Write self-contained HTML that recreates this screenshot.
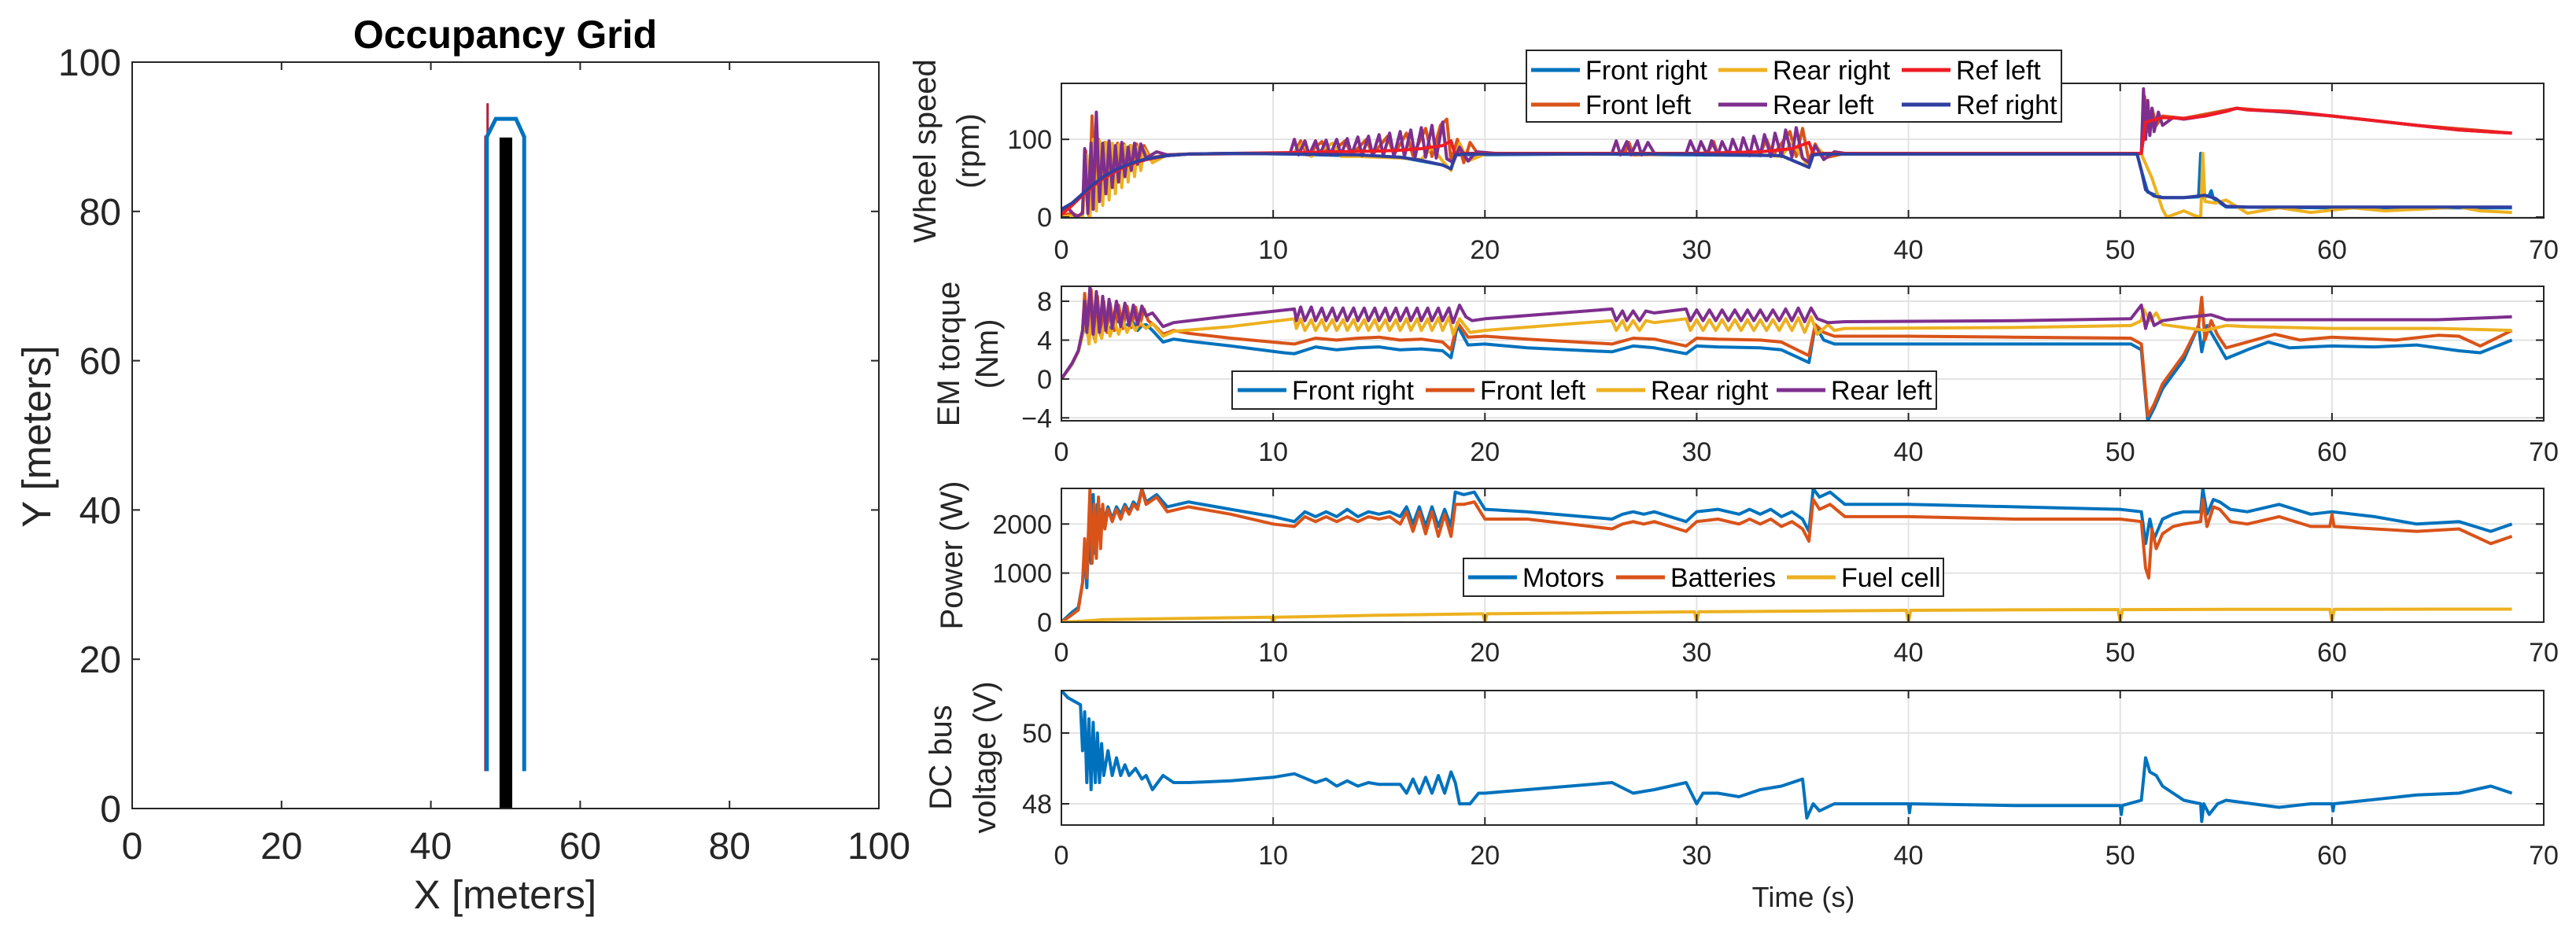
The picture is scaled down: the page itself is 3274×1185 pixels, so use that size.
<!DOCTYPE html>
<html><head><meta charset="utf-8"><style>
html,body{margin:0;padding:0;background:#fff;}
svg{display:block;font-family:"Liberation Sans",Arial,sans-serif;}
</style></head><body>
<svg id="fig" width="3274" height="1185" viewBox="0 0 3274 1185" xmlns="http://www.w3.org/2000/svg"></svg>
<script>
// ===== Occupancy grid data =====
const gridTicks = [0,20,40,60,80,100];
const obstacleBar = [49.2, 50.9, 0, 89.9]; // xmin,xmax,ymin,ymax (meters)
const pathOutline = [[47.5,5],[47.5,90],[48.7,92.4],[51.4,92.4],[52.5,90],[52.5,5]];
const refPath = [[47.3,5],[47.3,90],[47.6,90],[47.6,94.5]];

// ===== Time axis =====
const timeTicks = [0,10,20,30,40,50,60,70];

// ===== Wheel speed (rpm) =====
const wsTicks = [0,100];
const wsFrontRight = [[0,8],[1,28],[2,50],[3,64],[4,74],[5,79],[6,81],[8,82],[11,81],[16,77],[18,67],[18.4,62],[18.6,80],[25,81],[34,79],[35.3,64],[35.5,80],[36,81],[50.8,81],[51.0,60],[51.3,32],[52,25],[53,25],[53.7,26],[53.8,82],[53.9,25],[54.2,28],[54.3,34],[54.4,24],[55,13],[60,12],[68.5,12]];
const wsFrontLeft = [[0,2],[0.5,5],[0.9,0],[1.0,8],[1.15,85],[1.3,2],[1.45,130],[1.6,12],[1.75,100],[1.9,22],[2.05,96],[2.2,30],[2.35,92],[2.5,38],[2.65,95],[2.8,46],[2.95,94],[3.1,54],[3.25,92],[3.4,60],[3.55,94],[3.7,68],[3.9,92],[4.2,76],[5,80],[6,81],[11,82],[11.3,98],[11.6,80],[12.3,97],[12.6,80],[13.4,98],[13.7,80],[14.4,100],[14.7,80],[15.4,104],[15.7,80],[16.3,108],[16.6,79],[17.2,114],[17.5,78],[17.9,118],[18.2,126],[18.4,72],[18.7,100],[19.0,70],[19.3,96],[19.7,80],[20.5,82],[26.6,82],[26.8,96],[27.0,80],[30.5,82],[30.8,97],[31.0,80],[33,82],[33.3,100],[33.6,79],[34.4,110],[34.7,78],[35.0,114],[35.3,72],[35.6,94],[36,76],[37,82],[50.8,82],[51.0,82],[51.15,155],[51.3,110],[51.5,140],[51.7,118],[52,130],[53,127],[55.5,140],[60,130],[64,118],[68.5,108]];
const wsRearRight = [[0,0],[0.5,2],[1.0,0],[1.2,80],[1.35,0],[1.5,100],[1.65,8],[1.8,98],[1.95,15],[2.1,96],[2.25,22],[2.4,95],[2.55,30],[2.7,93],[2.85,38],[3.0,92],[3.15,45],[3.3,92],[3.45,52],[3.6,90],[3.75,60],[3.9,88],[4.3,70],[5,80],[6,81],[11,82],[11.4,95],[11.8,78],[12.8,95],[13.2,78],[14,78],[15,77],[16,76],[17,74],[17.5,90],[18,72],[18.4,60],[18.8,95],[19.2,72],[20,81],[30,81],[33,80],[34,78],[34.5,96],[35,76],[35.3,64],[35.6,92],[36,81],[50.8,81],[51.0,81],[51.5,50],[52,10],[52.2,0],[52.6,4],[53,8],[53.5,2],[53.8,0],[53.9,82],[54.0,20],[54.5,18],[55,22],[56,5],[57.5,12],[59,6],[61,12],[62.5,8],[64,10],[66,13],[67,8],[68.5,6]];
const wsRearLeft = [[0,3],[0.3,12],[0.7,0],[1.0,5],[1.1,88],[1.25,5],[1.4,95],[1.5,10],[1.65,135],[1.8,20],[1.95,95],[2.1,30],[2.25,98],[2.4,38],[2.55,92],[2.7,45],[2.85,96],[3.0,52],[3.15,90],[3.3,60],[3.45,95],[3.6,68],[3.75,94],[4.0,76],[4.5,84],[5.0,80],[6,81],[10.8,82],[11.0,100],[11.2,80],[11.5,98],[11.7,80],[12.0,98],[12.2,80],[12.5,99],[12.7,80],[13.0,100],[13.2,80],[13.5,101],[13.7,80],[14.0,103],[14.2,79],[14.5,104],[14.7,79],[15.0,106],[15.2,79],[15.5,108],[15.7,78],[16.0,110],[16.2,78],[16.5,112],[16.7,77],[17.0,115],[17.2,77],[17.5,118],[17.7,76],[18.0,122],[18.2,75],[18.5,70],[18.8,90],[19.2,72],[19.6,84],[20.5,82],[26,82],[26.2,98],[26.4,80],[26.7,97],[26.9,80],[27.2,98],[27.4,80],[27.7,96],[28,82],[29.5,82],[29.7,98],[30,80],[30.2,97],[30.5,80],[30.7,98],[31,80],[31.2,97],[31.5,80],[31.7,100],[32,80],[32.2,102],[32.5,79],[32.7,104],[33,79],[33.2,106],[33.5,78],[33.7,108],[34,78],[34.2,112],[34.5,77],[34.7,115],[35.0,76],[35.3,70],[35.6,92],[36,74],[36.5,84],[37,82],[50.8,82],[51.0,82],[51.1,165],[51.2,100],[51.3,150],[51.4,105],[51.5,140],[51.6,110],[51.8,135],[52,118],[52.5,128],[53,126],[54,130],[55,136],[55.5,140],[56,138],[58,135],[60,130],[62,124],[64,118],[66,112],[68.5,108]];
const wsRefLeft = [[0,3],[0.5,15],[1,28],[1.5,40],[2,50],[2.5,58],[3,65],[3.5,70],[4,74],[5,79],[6,81],[8,82],[11,83],[13,84],[15,85],[16,86],[17,88],[18,92],[18.4,98],[18.6,80],[19,82],[25,82],[30,82],[33,84],[34.5,88],[35.3,96],[35.5,81],[36,82],[50.8,82],[51.0,82],[51.2,122],[52,128],[53,127],[54,130],[55,136],[55.5,140],[56,138],[58,136],[60,130],[62,124],[64,118],[66,112],[68.5,108]];
const wsRefRight = [[0,10],[0.5,18],[1,30],[1.5,42],[2,52],[2.5,60],[3,66],[3.5,71],[4,75],[5,79],[6,81],[8,82],[11,81],[14,80],[16,77],[17,73],[18,67],[18.4,62],[18.6,80],[19,81],[25,81],[30,81],[34,79],[35.3,64],[35.5,80],[36,81],[50.8,81],[51.0,60],[51.2,35],[51.6,27],[52,25],[53,25],[54,28],[54.5,24],[55,14],[56,13],[60,13],[65,13],[68.5,13]];

// ===== EM torque (Nm) =====
const tqTicks = [-4,0,4,8];
const tqFrontRight = [[0,0],[0.5,1.5],[0.8,2.8],[1.0,4.5],[1.2,6.5],[1.4,5],[1.6,7],[1.8,5],[2.0,6.5],[2.3,5],[2.6,6],[3.0,5.5],[3.4,5.8],[3.6,5.0],[3.8,5.5],[4.0,5.6],[4.3,5.0],[4.8,3.8],[5.3,4.1],[6,3.9],[8,3.4],[10.5,2.7],[11,2.6],[12,3.3],[13,3.0],[14,3.2],[15,3.3],[16,3.0],[17,3.1],[18,2.9],[18.4,2.2],[18.7,5.5],[19.2,3.5],[20,3.6],[22,3.2],[26,2.8],[27,3.4],[28,3.2],[29.5,2.6],[30,3.4],[31,3.3],[33,3.2],[34,3.0],[35.3,1.7],[35.6,5.5],[36,4.0],[36.5,3.6],[40,3.6],[45,3.6],[50.5,3.6],[51.0,3.0],[51.3,-4.3],[51.6,-3],[52,-1],[53,2],[53.7,5.5],[53.85,2.8],[54.1,5.5],[54.5,4.0],[55,2.1],[56,3.0],[57,3.8],[58,3.2],[60,3.4],[62,3.3],[64,3.5],[66,2.9],[67,2.7],[68.5,4.0]];
const tqFrontLeft = [[0,0],[0.5,1.6],[0.8,2.9],[1.0,5],[1.1,8.8],[1.25,4.5],[1.4,9.2],[1.55,4.2],[1.7,8.5],[1.85,4.5],[2.0,8.0],[2.15,4.8],[2.3,7.8],[2.5,5],[2.7,7.6],[2.9,5.2],[3.1,7.5],[3.3,5.3],[3.5,7.4],[3.7,5.5],[3.9,7.2],[4.1,6.0],[4.4,5.5],[4.8,4.6],[5.3,5.0],[6,4.7],[8,4.2],[10.5,3.7],[11,3.6],[12,4.2],[13,4.0],[14,4.2],[15,4.3],[16,4.0],[17,4.1],[18,3.8],[18.4,3.0],[18.7,5.8],[19.2,4.3],[20,4.4],[22,4.1],[26,3.6],[27,4.2],[28,4.1],[29.5,3.4],[30,4.2],[31,4.1],[33,4.0],[34,3.8],[35.3,2.4],[35.6,5.6],[36,4.8],[36.5,4.4],[40,4.4],[45,4.3],[50.5,4.2],[51.0,3.6],[51.3,-3.8],[51.6,-2.6],[52,-0.5],[53,2.5],[53.7,5.5],[53.85,8.4],[54.0,4.0],[54.3,6.0],[54.6,4.5],[55,3.2],[56,3.8],[57.3,4.6],[58.5,4.0],[60,4.3],[63,4.0],[65,4.5],[66,4.4],[67,3.4],[68.5,5.0]];
const tqRearRight = [[0,0],[0.5,1.5],[0.8,2.8],[1.0,4.5],[1.15,7],[1.3,3.6],[1.45,6.8],[1.6,3.8],[1.75,6.5],[1.9,4.2],[2.1,6.3],[2.3,4.4],[2.5,6.0],[2.7,4.6],[2.9,6.0],[3.1,4.8],[3.3,5.8],[3.5,5.0],[3.7,5.8],[4.0,5.2],[4.3,5.7],[4.8,4.4],[5.3,4.9],[8,5.4],[11,6.2],[11.1,5.2],[11.3,6.2],[11.5,5.0],[11.8,6.1],[12.0,5.0],[12.3,6.1],[12.5,5.0],[12.8,6.1],[13.0,5.0],[13.3,6.1],[13.5,5.0],[13.8,6.1],[14.0,5.0],[14.3,6.1],[14.5,5.0],[14.8,6.1],[15.0,5.0],[15.3,6.1],[15.5,5.0],[15.8,6.1],[16.0,5.0],[16.3,6.2],[16.5,5.0],[16.8,6.2],[17.0,5.0],[17.3,6.2],[17.5,5.0],[17.8,6.3],[18.0,5.0],[18.3,6.4],[18.5,4.6],[18.8,6.2],[19.3,4.8],[20,5.0],[26,6.0],[26.2,5.0],[26.5,6.0],[26.7,5.0],[27.0,6.0],[27.3,5.0],[27.6,6.0],[28,5.8],[29.5,6.2],[29.7,5.0],[30,6.1],[30.3,5.0],[30.6,6.1],[30.9,5.0],[31.2,6.1],[31.5,5.0],[31.8,6.1],[32.1,5.0],[32.4,6.1],[32.7,5.0],[33,6.1],[33.3,5.0],[33.6,6.1],[33.9,5.0],[34.2,6.2],[34.5,5.0],[34.8,6.3],[35.1,4.8],[35.4,6.4],[35.7,4.6],[36.2,5.6],[36.5,5.0],[37,5.2],[45,5.3],[50.5,5.5],[51.0,6.0],[51.1,7.2],[51.4,6.0],[51.7,6.8],[52,5.6],[53,5.3],[54,5.0],[55,5.5],[56,5.4],[60,5.2],[65,5.2],[68.5,5.0]];
const tqRearLeft = [[0,0],[0.5,1.6],[0.8,2.9],[1.0,5],[1.1,8.0],[1.2,4.8],[1.35,9.5],[1.5,4.6],[1.65,9.0],[1.8,4.8],[1.95,8.5],[2.1,5.0],[2.25,8.2],[2.4,5.2],[2.6,8.0],[2.8,5.4],[3.0,7.8],[3.2,5.5],[3.4,7.6],[3.6,5.6],[3.8,7.5],[4.0,6.5],[4.3,6.8],[4.8,5.4],[5.3,5.8],[8,6.5],[11,7.2],[11.1,6.0],[11.3,7.4],[11.5,6.0],[11.8,7.4],[12.0,6.0],[12.3,7.3],[12.5,6.0],[12.8,7.3],[13.0,6.0],[13.3,7.3],[13.5,6.0],[13.8,7.3],[14.0,6.0],[14.3,7.3],[14.5,6.0],[14.8,7.3],[15.0,6.0],[15.3,7.3],[15.5,6.0],[15.8,7.3],[16.0,6.0],[16.3,7.3],[16.5,6.0],[16.8,7.3],[17.0,6.0],[17.3,7.3],[17.5,6.0],[17.8,7.3],[18.0,6.0],[18.3,7.3],[18.5,5.8],[18.8,7.6],[19.1,6.4],[19.4,6.0],[20,6.2],[26,7.2],[26.2,6.0],[26.5,7.0],[26.7,6.0],[27.0,7.0],[27.3,6.0],[27.6,7.0],[28,6.8],[29.5,7.2],[29.7,6.0],[30,7.1],[30.3,6.0],[30.6,7.1],[30.9,6.0],[31.2,7.1],[31.5,6.0],[31.8,7.1],[32.1,6.0],[32.4,7.1],[32.7,6.0],[33,7.1],[33.3,6.0],[33.6,7.1],[33.9,6.0],[34.2,7.2],[34.5,6.0],[34.8,7.3],[35.1,5.9],[35.4,7.3],[35.7,6.2],[36.2,5.8],[37,5.9],[45,6.0],[50.5,6.2],[51.0,7.6],[51.2,5.2],[51.4,6.8],[51.6,5.5],[52,6.0],[53,6.3],[54.3,6.6],[55,6.1],[60,6.1],[65,6.1],[68.5,6.4]];

// ===== Power (W) =====
const pwTicks = [0,1000,2000];
const pwMotors = [[0,0],[0.5,200],[0.8,300],[1.0,800],[1.1,1500],[1.2,700],[1.3,2000],[1.4,1200],[1.5,2600],[1.6,1400],[1.7,2400],[1.8,1800],[1.9,2300],[2.0,2000],[2.2,2350],[2.4,2100],[2.6,2350],[2.8,2200],[3.0,2400],[3.2,2250],[3.4,2450],[3.6,2350],[3.8,2720],[4.0,2450],[4.5,2600],[5.0,2350],[5.5,2400],[6,2450],[8,2300],[10,2150],[11,2050],[11.5,2250],[12,2150],[12.5,2250],[13,2150],[13.5,2300],[14,2150],[14.5,2250],[15,2200],[15.5,2250],[16,2150],[16.3,2350],[16.6,2000],[16.9,2350],[17.2,1950],[17.5,2350],[17.8,1950],[18.1,2300],[18.4,1950],[18.6,2650],[19,2600],[19.5,2650],[20,2300],[22,2250],[26,2100],[26.5,2200],[27,2250],[27.5,2200],[28,2250],[29.5,2050],[30,2250],[31,2300],[32,2200],[32.5,2300],[33,2200],[33.5,2300],[34,2150],[34.5,2250],[35,2100],[35.3,1850],[35.5,2720],[35.8,2550],[36.3,2650],[37,2400],[40,2400],[45,2350],[50,2300],[51,2250],[51.2,1600],[51.4,2100],[51.6,1700],[52,2100],[52.5,2200],[53,2250],[53.8,2250],[53.9,2720],[54.1,2200],[54.4,2500],[54.7,2450],[55.2,2300],[56,2250],[57.5,2400],[59,2200],[60,2250],[62,2150],[64,2000],[66,2050],[67.5,1850],[68.5,2000]];
const pwBatteries = [[0,0],[0.5,150],[0.8,250],[1.0,800],[1.1,1700],[1.2,900],[1.35,2700],[1.45,1200],[1.55,2400],[1.65,1300],[1.75,2550],[1.85,1500],[1.95,2400],[2.05,1900],[2.2,2300],[2.4,2050],[2.6,2300],[2.8,2100],[3.0,2350],[3.2,2200],[3.4,2400],[3.6,2300],[3.8,2700],[4.0,2400],[4.5,2550],[5.0,2250],[5.5,2300],[6,2350],[8,2200],[10,2000],[11,1950],[11.5,2150],[12,2050],[12.5,2150],[13,2050],[13.5,2150],[14,2050],[14.5,2150],[15,2100],[15.5,2150],[16,2000],[16.3,2250],[16.6,1850],[16.9,2250],[17.2,1800],[17.5,2250],[17.8,1750],[18.1,2200],[18.4,1750],[18.6,2400],[19,2400],[19.5,2450],[20,2100],[22,2100],[26,1900],[26.5,2000],[27,2050],[27.5,2000],[28,2050],[29.5,1850],[30,2050],[31,2100],[32,2000],[32.5,2100],[33,2000],[33.5,2100],[34,1950],[34.5,2050],[35,1900],[35.3,1650],[35.5,2500],[35.8,2300],[36.3,2400],[37,2150],[40,2150],[45,2100],[50,2100],[51,2050],[51.2,1100],[51.35,900],[51.5,1900],[51.7,1500],[52,1800],[52.5,1950],[53,2000],[53.8,2050],[53.9,2500],[54.1,1950],[54.4,2350],[54.7,2300],[55.2,2050],[56,2000],[57.5,2150],[59,1950],[59.9,1950],[60,2200],[60.1,1950],[62,1900],[64,1850],[66,1900],[67.5,1600],[68.5,1750]];
const pwFuelCell = [[0,0],[1,20],[2,50],[5,70],[9.9,100],[10,0],[10.1,100],[15,140],[19.9,170],[20,0],[20.1,170],[25,190],[29.9,210],[30,0],[30.1,210],[35,225],[39.9,240],[40,0],[40.1,240],[45,250],[49.9,255],[50,0],[50.1,255],[55,260],[59.9,262],[60,0],[60.1,262],[65,265],[68.5,265]];

// ===== DC bus voltage (V) =====
const vTicks = [48,50];
const vBus = [[0,51.2],[0.3,51.0],[0.6,50.9],[0.9,50.8],[1.0,49.5],[1.1,50.6],[1.2,48.6],[1.3,50.4],[1.4,48.4],[1.5,50.3],[1.6,48.6],[1.7,50.0],[1.8,48.6],[1.9,49.7],[2.0,48.8],[2.2,49.5],[2.4,48.8],[2.6,49.3],[2.8,48.8],[3.0,49.1],[3.2,48.8],[3.5,49.0],[3.8,48.7],[4.0,48.8],[4.3,48.4],[4.8,48.8],[5.3,48.6],[6,48.6],[8,48.65],[10,48.75],[11,48.85],[12,48.6],[12.5,48.7],[13,48.5],[13.5,48.65],[14,48.5],[14.5,48.6],[15,48.55],[16,48.55],[16.3,48.3],[16.6,48.7],[16.9,48.3],[17.2,48.75],[17.5,48.3],[17.8,48.8],[18.1,48.3],[18.4,48.9],[18.6,48.6],[18.8,48.0],[19.3,48.0],[19.7,48.3],[20,48.3],[22,48.4],[26,48.6],[27,48.3],[28,48.4],[29.5,48.6],[30,48.0],[30.3,48.3],[31,48.3],[32,48.2],[33,48.4],[34,48.5],[35,48.7],[35.2,47.6],[35.5,48.0],[35.8,47.8],[36.5,48.0],[40,48.0],[40.05,47.75],[40.1,48.0],[45,47.95],[50,47.95],[50.05,47.7],[50.1,47.95],[51,48.1],[51.2,49.3],[51.4,48.9],[51.7,48.8],[52,48.5],[53,48.1],[53.8,48.0],[53.85,47.5],[53.95,48.0],[54.2,47.7],[54.6,48.0],[55,48.1],[57.5,47.9],[59,48.0],[60,48.0],[60.05,47.8],[60.1,48.0],[64,48.25],[66,48.3],[67.5,48.5],[68.5,48.3]];

const NS = 'http://www.w3.org/2000/svg';
const svg = document.getElementById('fig');
function el(tag, attrs, parent) {
  const e = document.createElementNS(NS, tag);
  for (const k in attrs) e.setAttribute(k, attrs[k]);
  (parent || svg).appendChild(e);
  return e;
}
const INK = '#262626';
const C = {blue:'#0072BD', orange:'#D95319', yellow:'#EDB120', purple:'#7E2F8E', red:'#EE1C25', navy:'#3040A0'};

// ===== Occupancy grid =====
const GX0 = 168, GX1 = 1117, GY0 = 1028, GY1 = 79;
const gx = v => GX0 + (v / 100) * (GX1 - GX0);
const gy = v => GY0 - (v / 100) * (GY0 - GY1);
const gridGroup = el('g', {});


const gbg = el('rect', {x:GX0, y:GY1, width:GX1-GX0, height:GY0-GY1, fill:'#fff'}, gridGroup);


const bar = el('rect', {x:gx(obstacleBar[0]), y:gy(obstacleBar[3]), width:gx(obstacleBar[1])-gx(obstacleBar[0]), height:gy(obstacleBar[2])-gy(obstacleBar[3]), fill:'#000'}, gridGroup);


const rp = el('polyline', {points: refPath.map(p => gx(p[0]) + ',' + gy(p[1])).join(' '), fill:'none', stroke:'#B0203A', 'stroke-width':3}, gridGroup);


const po = el('polyline', {points: pathOutline.map(p => gx(p[0]) + ',' + gy(p[1])).join(' '), fill:'none', stroke:C.blue, 'stroke-width':5}, gridGroup);


const gbox = el('rect', {x:GX0, y:GY1, width:GX1-GX0, height:GY0-GY1, fill:'none', stroke:INK, 'stroke-width':2}, gridGroup);


gridTicks.forEach(v => {
  el('line', {x1:gx(v), x2:gx(v), y1:GY0, y2:GY0-10, stroke:INK, 'stroke-width':2}, gridGroup);
  el('line', {x1:gx(v), x2:gx(v), y1:GY1, y2:GY1+10, stroke:INK, 'stroke-width':2}, gridGroup);
  el('line', {x1:GX0, x2:GX0+10, y1:gy(v), y2:gy(v), stroke:INK, 'stroke-width':2}, gridGroup);
  el('line', {x1:GX1, x2:GX1-10, y1:gy(v), y2:gy(v), stroke:INK, 'stroke-width':2}, gridGroup);
  const tx = el('text', {x:gx(v), y:1092, 'font-size':48, fill:INK, 'text-anchor':'middle'}, gridGroup);
  tx.textContent = v;
  
  
  const ty = el('text', {x:154, y:gy(v)+17, 'font-size':48, fill:INK, 'text-anchor':'end'}, gridGroup);
  ty.textContent = v;
  
  
});
const gt = el('text', {x:642, y:61, 'font-size':50, 'font-weight':'bold', fill:'#000', 'text-anchor':'middle'}, gridGroup);
gt.textContent = 'Occupancy Grid';


const gxl = el('text', {x:642, y:1155, 'font-size':51, fill:INK, 'text-anchor':'middle'}, gridGroup);
gxl.textContent = 'X [meters]';


const gyl = el('text', {x:0, y:0, 'font-size':51, fill:INK, 'text-anchor':'middle', transform:'translate(64,555) rotate(-90)'}, gridGroup);
gyl.textContent = 'Y [meters]';



// ===== Time-series panels =====
const PX0 = 1349, PX1 = 3233, TMAX = 70;
const px = t => PX0 + (t / TMAX) * (PX1 - PX0);
let clipId = 0;
function panel(name, top, bottom, ymin, ymax, ticks, tickLabelY, series) {
  const g = el('g', {});
  
  
  const py = v => bottom - (v - ymin) / (ymax - ymin) * (bottom - top);
  // grid
  timeTicks.forEach(t => {
    el('line', {x1:px(t), x2:px(t), y1:top, y2:bottom, stroke:'#e3e3e3', 'stroke-width':2}, g);
  });
  ticks.forEach(v => {
    el('line', {x1:PX0, x2:PX1, y1:py(v), y2:py(v), stroke:'#e3e3e3', 'stroke-width':2}, g);
  });
  const cid = 'clip' + (clipId++);
  const cp = el('clipPath', {id:cid}, g);
  el('rect', {x:PX0, y:top, width:PX1-PX0, height:bottom-top}, cp);
  const sg = el('g', {'clip-path':'url(#' + cid + ')'}, g);
  series.forEach(s => {
    const pl = el('polyline', {points: s.data.map(p => px(p[0]).toFixed(1) + ',' + py(p[1]).toFixed(1)).join(' '), fill:'none', stroke:s.color, 'stroke-width':4, 'stroke-linejoin':'round'}, sg);
    
    
  });
  const box = el('rect', {x:PX0, y:top, width:PX1-PX0, height:bottom-top, fill:'none', stroke:INK, 'stroke-width':2}, g);
  
  
  timeTicks.forEach(t => {
    el('line', {x1:px(t), x2:px(t), y1:bottom, y2:bottom-10, stroke:INK, 'stroke-width':2}, g);
    el('line', {x1:px(t), x2:px(t), y1:top, y2:top+10, stroke:INK, 'stroke-width':2}, g);
    const tx = el('text', {x:px(t), y:tickLabelY, 'font-size':34, fill:INK, 'text-anchor':'middle'}, g);
    tx.textContent = t;
    
    
  });
  ticks.forEach(v => {
    el('line', {x1:PX0, x2:PX0+10, y1:py(v), y2:py(v), stroke:INK, 'stroke-width':2}, g);
    el('line', {x1:PX1, x2:PX1-10, y1:py(v), y2:py(v), stroke:INK, 'stroke-width':2}, g);
    const ty = el('text', {x:1337, y:py(v)+12, 'font-size':34, fill:INK, 'text-anchor':'end'}, g);
    ty.textContent = v < 0 ? '\u2212' + Math.abs(v) : v;
    
    
  });
  return g;
}
function ylabel(g, lines, xs, cy, name) {
  lines.forEach((txt, i) => {
    const t = el('text', {x:0, y:0, 'font-size':40, fill:INK, 'text-anchor':'middle', transform:'translate(' + (xs[i]+14) + ',' + cy + ') rotate(-90)'}, g);
    t.textContent = txt;
    
    
  });
}
function legend(g, name, x0, y0, x1, y1, items) {
  const lg = el('g', {}, g);
  
  
  el('rect', {x:x0, y:y0, width:x1-x0, height:y1-y0, fill:'#fff', stroke:INK, 'stroke-width':2}, lg);
  items.forEach(it => {
    const e = el('g', {}, lg);
    
    
    el('line', {x1:it.lx, x2:it.lx+62, y1:it.y, y2:it.y, stroke:it.color, 'stroke-width':5}, e);
    const t = el('text', {x:it.lx+69, y:it.y+12, 'font-size':34, fill:'#000'}, e);
    t.textContent = it.label;
  });
}

const g1 = panel('wheel-speed-panel', 106, 277, -1, 172, wsTicks, 329, [
  {name:'front-right-speed', color:C.blue, data:wsFrontRight},
  {name:'front-left-speed', color:C.orange, data:wsFrontLeft},
  {name:'rear-right-speed', color:C.yellow, data:wsRearRight},
  {name:'rear-left-speed', color:C.purple, data:wsRearLeft},
  {name:'ref-left-speed', color:C.red, data:wsRefLeft},
  {name:'ref-right-speed', color:C.navy, data:wsRefRight}
]);
ylabel(g1, ['Wheel speed','(rpm)'], [1175,1230], 192, 'wheel-speed-y-title');
legend(g1, 'wheel-speed-legend', 1940, 64, 2620, 155, [
  {lx:1946, y:89, color:C.blue, label:'Front right'},
  {lx:2184, y:89, color:C.yellow, label:'Rear right'},
  {lx:2417, y:89, color:C.red, label:'Ref left'},
  {lx:1946, y:133, color:C.orange, label:'Front left'},
  {lx:2184, y:133, color:C.purple, label:'Rear left'},
  {lx:2417, y:133, color:C.navy, label:'Ref right'}
]);

const g2 = panel('em-torque-panel', 364, 535, -4.3, 9.54, tqTicks, 586, [
  {name:'front-right-torque', color:C.blue, data:tqFrontRight},
  {name:'front-left-torque', color:C.orange, data:tqFrontLeft},
  {name:'rear-right-torque', color:C.yellow, data:tqRearRight},
  {name:'rear-left-torque', color:C.purple, data:tqRearLeft}
]);
ylabel(g2, ['EM torque','(Nm)'], [1205,1254], 450, 'em-torque-y-title');
legend(g2, 'em-torque-legend', 1566, 472, 2461, 520, [
  {lx:1573, y:496, color:C.blue, label:'Front right'},
  {lx:1812, y:496, color:C.orange, label:'Front left'},
  {lx:2029, y:496, color:C.yellow, label:'Rear right'},
  {lx:2258, y:496, color:C.purple, label:'Rear left'}
]);

const g3 = panel('power-panel', 621, 791, 0, 2726, pwTicks, 841, [
  {name:'motors-power', color:C.blue, data:pwMotors},
  {name:'batteries-power', color:C.orange, data:pwBatteries},
  {name:'fuel-cell-power', color:C.yellow, data:pwFuelCell}
]);
ylabel(g3, ['Power (W)'], [1209], 706, 'power-y-title');
legend(g3, 'power-legend', 1860, 710, 2470, 758, [
  {lx:1866, y:734, color:C.blue, label:'Motors'},
  {lx:2054, y:734, color:C.orange, label:'Batteries'},
  {lx:2271, y:734, color:C.yellow, label:'Fuel cell'}
]);

const g4 = panel('dc-voltage-panel', 878, 1049, 47.4, 51.2, vTicks, 1099, [
  {name:'dc-bus-voltage', color:C.blue, data:vBus}
]);
ylabel(g4, ['DC bus','voltage (V)'], [1195,1251], 963, 'dc-voltage-y-title');
const xt = el('text', {x:2292, y:1153, 'font-size':36, fill:INK, 'text-anchor':'middle'});
xt.textContent = 'Time (s)';


</script>
</body></html>
